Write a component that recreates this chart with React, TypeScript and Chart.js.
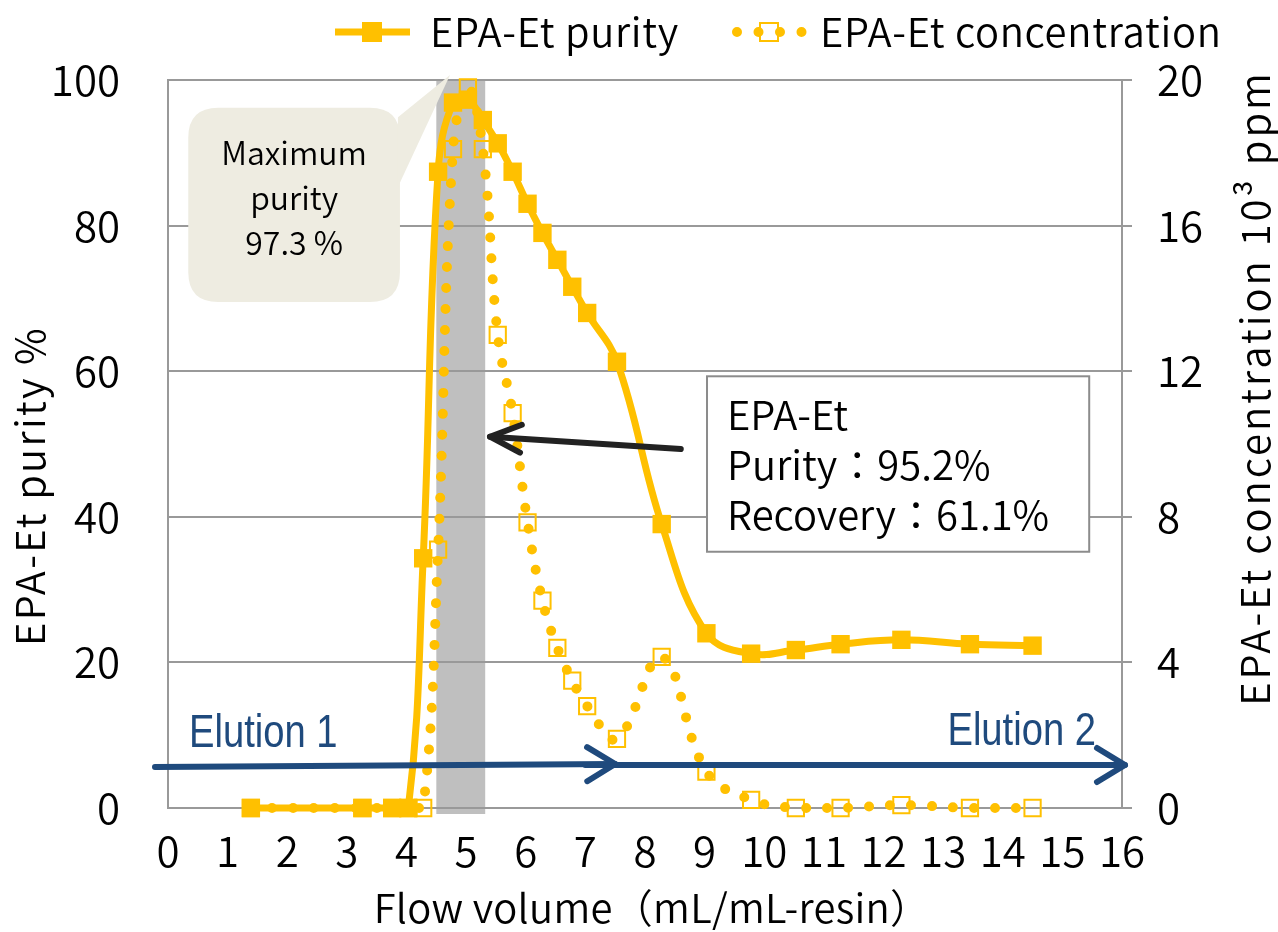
import { useEffect, useRef } from 'react';
import { Chart, registerables } from 'chart.js';

Chart.register(...registerables);

// ---- data ----
const flowVolume = [1.39, 3.26, 3.76, 4.03, 4.28, 4.53, 4.78, 5.03, 5.28, 5.53, 5.78, 6.03, 6.28, 6.53, 6.78, 7.03, 7.53, 8.28, 9.03, 9.78, 10.53, 11.28, 12.3, 13.45, 14.5];
const purity = [0, 0, 0, 0, 34.3, 87.4, 96.9, 97.3, 94.5, 91.3, 87.4, 83.0, 79.0, 75.3, 71.6, 68.0, 61.3, 39.0, 24.0, 21.2, 21.7, 22.5, 23.1, 22.5, 22.3];
const concentration = [0, 0, 0, 0, 0, 7.1, 18.1, 19.8, 18.1, 13.0, 10.85, 7.85, 5.7, 4.4, 3.5, 2.8, 1.9, 4.15, 1.0, 0.22, 0, 0, 0.08, 0, 0];

const xRange = [0, 16];
const xStep = 1;
const purityRange = [0, 100];
const purityStep = 20;
const concRange = [0, 20];
const concStep = 4;
const fractionBand = [4.5, 5.32];

const seriesLabels = ['EPA-Et purity', 'EPA-Et concentration'];
const xTitle = 'Flow volume（mL/mL-resin）';
const yTitle = 'EPA-Et purity %';
const y1Title = 'EPA-Et concentration 10³ ppm';
const calloutLines = ['Maximum', 'purity', '97.3 %'];
const boxLines = ['EPA-Et', 'Purity：95.2%', 'Recovery：61.1%'];
const elutionLabels = ['Elution 1', 'Elution 2'];

const GOLD = '#FFC000';
const BLUE = '#1F4A7D';
const GRID = '#999999';
const FONT = "'Noto Sans CJK JP', 'Noto Sans', sans-serif";
const WEIGHT = '350';

function drawArrow(ctx: CanvasRenderingContext2D, x1: number, y1: number, x2: number, y2: number, color: string, width: number, headLen: number, headHalf: number) {
  ctx.save();
  ctx.strokeStyle = color;
  ctx.lineWidth = width;
  ctx.lineCap = 'round';
  ctx.lineJoin = 'round';
  ctx.beginPath();
  ctx.moveTo(x1, y1);
  ctx.lineTo(x2, y2);
  ctx.stroke();
  const a = Math.atan2(y2 - y1, x2 - x1);
  const ux = Math.cos(a), uy = Math.sin(a);
  ctx.beginPath();
  ctx.moveTo(x2 - ux * headLen - uy * headHalf, y2 - uy * headLen + ux * headHalf);
  ctx.lineTo(x2, y2);
  ctx.lineTo(x2 - ux * headLen + uy * headHalf, y2 - uy * headLen - ux * headHalf);
  ctx.stroke();
  ctx.restore();
}

function roundRect(ctx: CanvasRenderingContext2D, x: number, y: number, w: number, h: number, r: number) {
  ctx.beginPath();
  ctx.moveTo(x + r, y);
  ctx.lineTo(x + w - r, y);
  ctx.quadraticCurveTo(x + w, y, x + w, y + r);
  ctx.lineTo(x + w, y + h - r);
  ctx.quadraticCurveTo(x + w, y + h, x + w - r, y + h);
  ctx.lineTo(x + r, y + h);
  ctx.quadraticCurveTo(x, y + h, x, y + h - r);
  ctx.lineTo(x, y + r);
  ctx.quadraticCurveTo(x, y, x + r, y);
  ctx.closePath();
}

const overlayPlugin = {
  id: 'overlay',
  beforeDraw(chart: any) {
    const { ctx, chartArea, scales } = chart;
    const x0 = scales.x.getPixelForValue(fractionBand[0]);
    const x1 = scales.x.getPixelForValue(fractionBand[1]);
    ctx.save();
    ctx.fillStyle = '#BFBFBF';
    ctx.fillRect(x0, chartArea.top, x1 - x0, chartArea.bottom - chartArea.top + 6);
    ctx.restore();
  },
  afterDraw(chart: any) {
    const { ctx, scales } = chart;
    const px = (v: number) => scales.x.getPixelForValue(v);
    const py = (v: number) => scales.y.getPixelForValue(v);
    ctx.save();

    // callout "Maximum purity"
    const cl = px(0.34), cr = px(3.89), ct = py(96.2), cb = py(69.5);
    ctx.fillStyle = '#EEECE1';
    roundRect(ctx, cl, ct, cr - cl, cb - ct, 30);
    ctx.fill();
    ctx.beginPath();
    ctx.moveTo(cr - 2, py(94.9));
    ctx.lineTo(px(4.73), py(100.7));
    ctx.lineTo(cr - 2, py(85.3));
    ctx.closePath();
    ctx.fill();
    ctx.fillStyle = '#000';
    ctx.font = `${WEIGHT} 32px ${FONT}`;
    ctx.textAlign = 'center';
    ctx.textBaseline = 'middle';
    const ccx = (cl + cr) / 2;
    calloutLines.forEach((t, i) => ctx.fillText(t, ccx, 153 + i * 45));

    // result box
    const bl = px(9.04), br = px(15.45), bt = py(59.3), bb = py(35.2);
    ctx.fillStyle = '#FFFFFF';
    ctx.fillRect(bl, bt, br - bl, bb - bt);
    ctx.strokeStyle = '#8C8C8C';
    ctx.lineWidth = 2;
    ctx.strokeRect(bl, bt, br - bl, bb - bt);
    ctx.fillStyle = '#000';
    ctx.font = `${WEIGHT} 40px ${FONT}`;
    ctx.textAlign = 'left';
    ctx.textBaseline = 'alphabetic';
    boxLines.forEach((t, i) => ctx.fillText(t, bl + 20, 430 + i * 50));

    // black arrow
    drawArrow(ctx, px(8.6), py(49.3), px(5.4), py(51.0), '#222222', 6, 31, 14);

    // elution arrows
    drawArrow(ctx, 155, 767, px(7.5), 764, BLUE, 6, 28, 17);
    drawArrow(ctx, px(7.0), 765, 1125, 765, BLUE, 6, 28, 17);
    ctx.fillStyle = BLUE;
    ctx.font = `46px 'Liberation Sans', Arial, sans-serif`;
    ctx.textBaseline = 'alphabetic';
    ctx.save();
    ctx.translate(189, 747);
    ctx.scale(0.83, 1);
    ctx.textAlign = 'left';
    ctx.fillText(elutionLabels[0], 0, 0);
    ctx.restore();
    ctx.save();
    ctx.translate(1096, 745);
    ctx.scale(0.83, 1);
    ctx.textAlign = 'right';
    ctx.fillText(elutionLabels[1], 0, 0);
    ctx.restore();

    // axis titles
    ctx.fillStyle = '#000';
    ctx.font = `${WEIGHT} 40px ${FONT}`;
    ctx.textAlign = 'center';
    ctx.textBaseline = 'middle';
    ctx.save();
    (ctx as any).letterSpacing = '0.3px';
    ctx.fillText(xTitle, 652, 908);
    ctx.restore();
    ctx.save();
    (ctx as any).letterSpacing = '2.3px';
    ctx.translate(30, 486);
    ctx.rotate(-Math.PI / 2);
    ctx.fillText(yTitle, 0, 0);
    ctx.restore();
    ctx.save();
    (ctx as any).letterSpacing = '3px';
    ctx.translate(1255, 388);
    ctx.rotate(-Math.PI / 2);
    ctx.fillText(y1Title, 0, 0);
    ctx.restore();

    // legend
    const ly = 32;
    ctx.strokeStyle = GOLD;
    ctx.lineCap = 'butt';
    ctx.lineWidth = 7;
    ctx.beginPath();
    ctx.moveTo(335, ly);
    ctx.lineTo(410, ly);
    ctx.stroke();
    ctx.fillStyle = GOLD;
    ctx.fillRect(372 - 10, ly - 10, 20, 20);
    ctx.lineWidth = 10;
    ctx.lineCap = 'round';
    ctx.setLineDash([0, 21.5]);
    ctx.beginPath();
    ctx.moveTo(737, ly);
    ctx.lineTo(803, ly);
    ctx.stroke();
    ctx.setLineDash([]);
    ctx.lineWidth = 2;
    ctx.strokeRect(769 - 9, ly - 9, 18, 18);
    ctx.fillStyle = '#000';
    ctx.textAlign = 'left';
    ctx.textBaseline = 'middle';
    ctx.font = `${WEIGHT} 40px ${FONT}`;
    (ctx as any).letterSpacing = '0.7px';
    ctx.fillText(seriesLabels[0], 430, ly);
    ctx.fillText(seriesLabels[1], 820, ly);

    ctx.restore();
  },
};

export default function App() {
  const canvasRef = useRef<HTMLCanvasElement | null>(null);

  useEffect(() => {
    const canvas = canvasRef.current;
    if (!canvas) return;
    const tickFont = { family: FONT, size: 42, weight: WEIGHT };
    const chart = new Chart(canvas, {
      type: 'line',
      data: {
        datasets: [
          {
            label: seriesLabels[0],
            data: flowVolume.map((x, i) => ({ x, y: purity[i] })),
            yAxisID: 'y',
            borderColor: GOLD,
            backgroundColor: GOLD,
            borderWidth: 7,
            pointStyle: 'rect',
            pointRadius: 13,
            pointBackgroundColor: GOLD,
            pointBorderColor: GOLD,
            pointBorderWidth: 0,
            tension: 0.4,
            order: 1,
            clip: { left: 20, right: 20, top: 20, bottom: 14 },
          },
          {
            label: seriesLabels[1],
            data: flowVolume.map((x, i) => ({ x, y: concentration[i] })),
            yAxisID: 'y1',
            borderColor: GOLD,
            backgroundColor: 'rgba(0,0,0,0)',
            borderWidth: 10,
            borderDash: [0, 21],
            borderCapStyle: 'round',
            pointStyle: 'rect',
            pointRadius: 11.5,
            pointBackgroundColor: 'rgba(0,0,0,0)',
            pointBorderColor: GOLD,
            pointBorderWidth: 2,
            tension: 0.4,
            order: 0,
            clip: { left: 20, right: 20, top: 20, bottom: 14 },
          },
        ],
      },
      options: {
        responsive: false,
        animation: false,
        events: [],
        layout: { padding: { top: 80, left: 0, right: 0, bottom: 0 } },
        plugins: {
          legend: { display: false },
          tooltip: { enabled: false },
          title: { display: false },
        },
        scales: {
          x: {
            type: 'linear',
            min: xRange[0],
            max: xRange[1],
            ticks: { stepSize: xStep, color: '#000', font: tickFont, padding: 18, maxRotation: 0, autoSkip: false },
            grid: { display: false, drawTicks: false },
            border: { display: true, color: GRID, width: 2 },
            afterFit: (s: any) => { s.height = 124; },
          },
          y: {
            type: 'linear',
            position: 'left',
            min: purityRange[0],
            max: purityRange[1],
            ticks: { stepSize: purityStep, color: '#000', font: tickFont, padding: 48 },
            grid: { color: GRID, lineWidth: 2, drawTicks: false },
            border: { display: true, color: GRID, width: 2 },
            afterFit: (s: any) => { s.width = 168; },
          },
          y1: {
            type: 'linear',
            position: 'right',
            min: concRange[0],
            max: concRange[1],
            ticks: { stepSize: concStep, color: '#000', font: tickFont, padding: 25 },
            grid: { drawOnChartArea: false, drawTicks: true, tickLength: 10, color: GRID, lineWidth: 2 },
            border: { display: true, color: GRID, width: 2 },
            afterFit: (s: any) => { s.width = 156; },
          },
        },
      },
      plugins: [overlayPlugin],
    } as any);
    return () => chart.destroy();
  }, []);

  return (
    <div style={{ position: 'absolute', left: 0, top: 0, width: 1278, height: 932, background: '#fff' }}>
      <canvas ref={canvasRef} width={1278} height={932} style={{ display: 'block', width: 1278, height: 932 }} />
    </div>
  );
}
